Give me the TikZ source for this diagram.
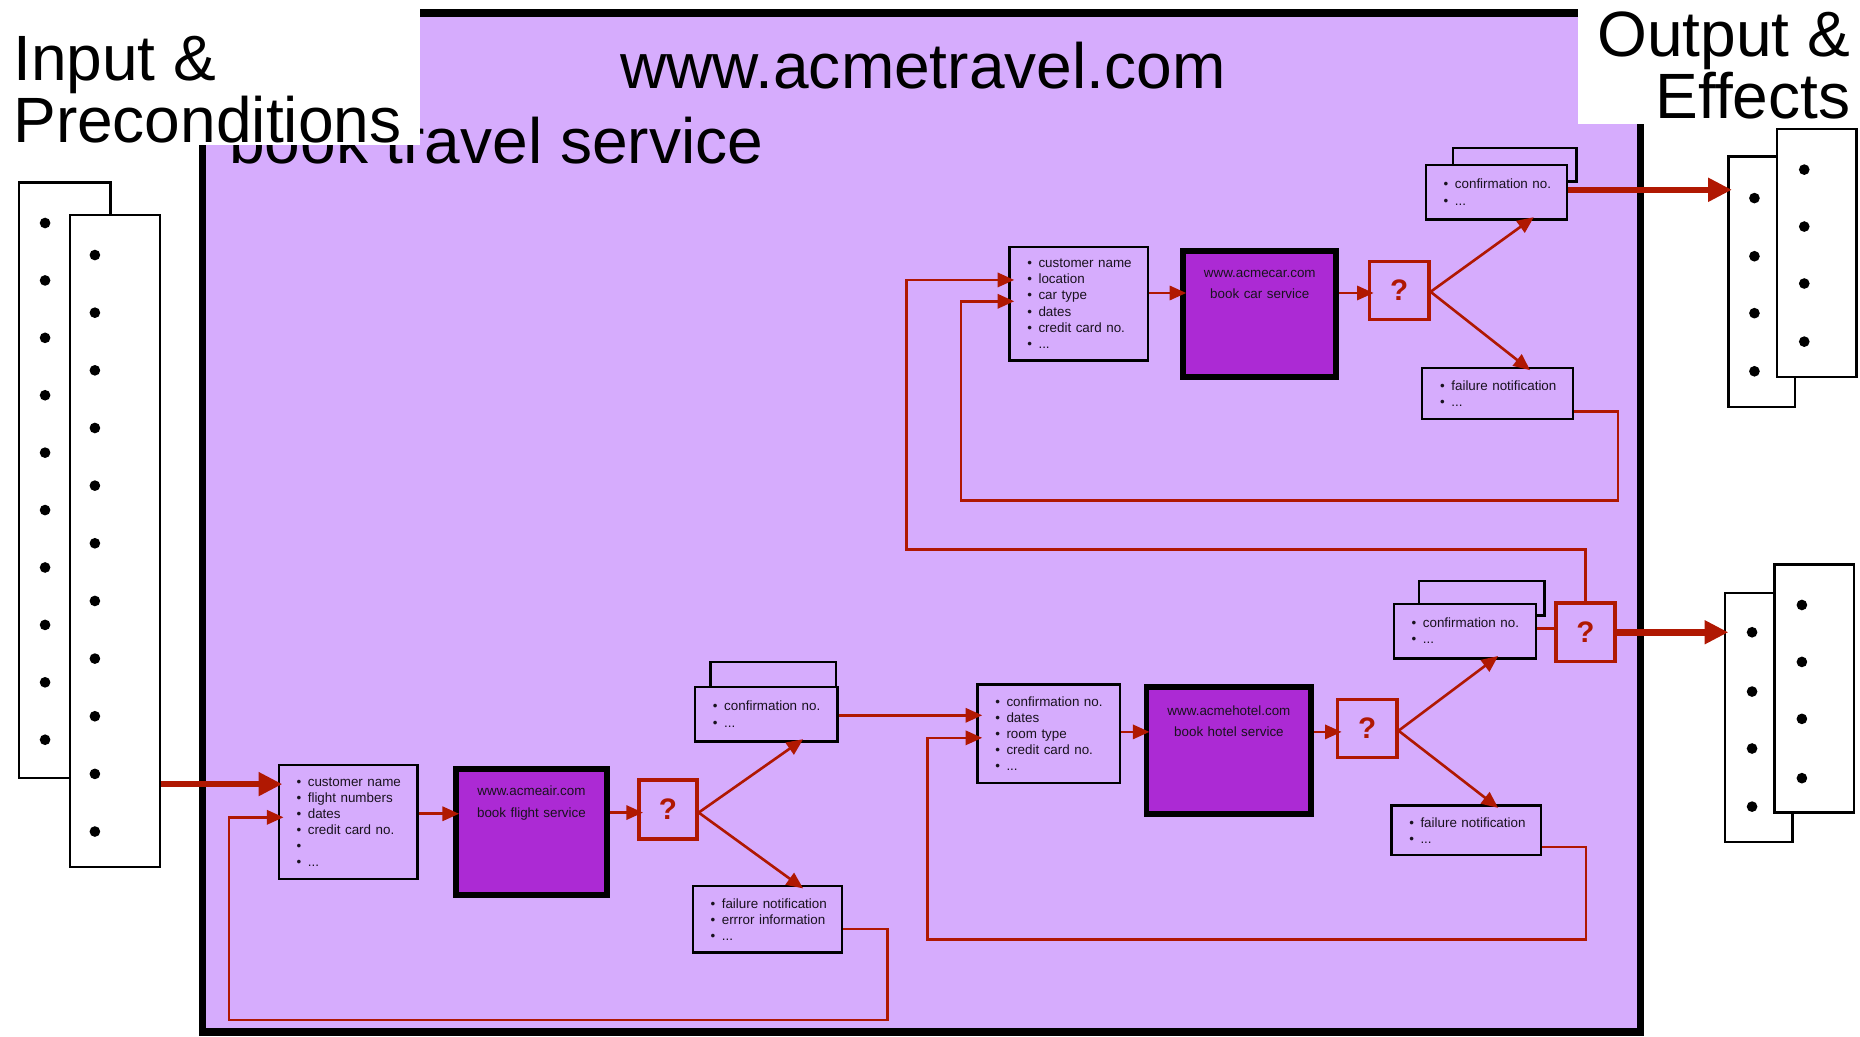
\documentclass[tikz,border=0pt]{standalone}
\usepackage{fontspec}
\setmainfont{Liberation Sans}
\usetikzlibrary{arrows.meta}
\definecolor{framefill}{RGB}{214,172,253}
\definecolor{svcfill}{RGB}{172,42,212}
\definecolor{flowred}{RGB}{176,24,2}
\definecolor{ink}{RGB}{25,18,30}
% one bulleted line of a data list
\newcommand\itm[1]{\mbox{\makebox[9.5pt][l]{\textbullet}#1}}
\begin{document}
\begin{tikzpicture}[x=1pt,y=-1pt,
  frame/.style={draw=black,line width=6pt,fill=framefill,inner sep=0pt},
  blank/.style={fill=white,inner sep=0pt,anchor=north west},
  bigtext/.style={inner sep=0pt,text=black,font=\fontsize{54}{54}\selectfont},
  doc/.style={draw=black,line width=2pt,fill=white,inner sep=0pt},
  listbox/.style={draw=black,line width=2pt,fill=framefill,inner xsep=15pt,inner ysep=0pt,
    align=left,text=ink,font=\fontsize{11.3}{13.6}\selectfont},
  backbox/.style={draw=black,line width=2pt,fill=framefill,inner sep=0pt},
  svcbox/.style={draw=black,line width=5pt,fill=svcfill,inner sep=0pt},
  svctext/.style={anchor=base,inner sep=0pt,text width=130pt,align=center,text=ink,
    font=\fontsize{11.3}{18}\selectfont,yshift=-25pt},
  qbox/.style={draw=flowred,line width=3pt,inner sep=0pt,text=flowred,
    font=\fontsize{25}{25}\selectfont\bfseries},
  wire/.style={draw=flowred,line width=2.2pt},
  flow/.style={wire,-{Triangle[length=14pt,width=12pt]},shorten >=-5pt},
  bigflow/.style={draw=flowred,line width=5.5pt,-{Triangle[length=20pt,width=19pt]},shorten >=-4pt},
]
\useasboundingbox (0,0) rectangle (1568,874);

% ---- composite service frame and its titles
\node[frame,minimum width=1212pt,minimum height=859pt] (travel) at (777,440.5) {};
\node[bigtext,anchor=base] (site) at (778,75) {www.acmetravel.com};
\node[bigtext,anchor=base west] (svcname) at (193,138) {book travel service};

% ---- side captions on white panels
\node[blank,minimum width=354pt,minimum height=122pt] (inpanel) at (0,0) {};
\node[blank,minimum width=238pt,minimum height=104pt] (outpanel) at (1330,0) {};
\node[bigtext,anchor=base west] (incap1) at (11,68) {Input \&};
\node[bigtext,anchor=base west] (incap2) at (11,120) {Preconditions};
\node[bigtext,anchor=base east] (outcap1) at (1560,48) {Output \&};
\node[bigtext,anchor=base east] (outcap2) at (1560,100) {Effects};

% ---- input documents
\node[doc,minimum width=77pt,minimum height=502pt] (inback) at (54.5,405) {};
\node[doc,minimum width=76pt,minimum height=550pt] (infront) at (97,456) {};
\foreach \k in {0,...,9} \fill (38,{188+48.4*\k}) circle[radius=4.5pt];
\foreach \k in {0,...,10} \fill (80,{215+48.6*\k}) circle[radius=4.5pt];

% ---- output documents
\node[doc,minimum width=56pt,minimum height=211pt] (outback1) at (1485,237.5) {};
\node[doc,minimum width=67pt,minimum height=209pt] (outfront1) at (1531.5,213.5) {};
\foreach \yy in {167,216,264,313} \fill (1479,\yy) circle[radius=4.5pt];
\foreach \yy in {143,191,239,288} \fill (1521,\yy) circle[radius=4.5pt];
\node[doc,minimum width=57pt,minimum height=210pt] (outback2) at (1482.5,605) {};
\node[doc,minimum width=67pt,minimum height=209pt] (outfront2) at (1529.5,580.5) {};
\foreach \yy in {533,583,631,680} \fill (1477,\yy) circle[radius=4.5pt];
\foreach \yy in {510,558,606,656} \fill (1519,\yy) circle[radius=4.5pt];

% ---- flight booking
\node[listbox,text width=87pt,minimum height=96pt] (airlist) at (293.5,693)
  {\itm{customer name}\\\itm{flight numbers}\\\itm{dates}\\\itm{credit card no.}\\\itm{}\\\itm{...}};
\node[svcbox,minimum width=127pt,minimum height=106pt] (airsvc) at (448,701.5) {};
\node[svctext] (airsvctxt) at (airsvc.north) {www.acmeair.com\\book flight service};
\node[qbox,minimum width=49pt,minimum height=50pt] (airq) at (563,682.5) {?};
\node[backbox,minimum width=106pt,minimum height=31pt] (airconfback) at (652,573.5) {};
\node[listbox,text width=90pt,minimum height=46pt] (airconf) at (646,602)
  {\itm{confirmation no.}\\\itm{...}};
\node[listbox,text width=96pt,minimum height=56pt] (airfail) at (647,775)
  {\itm{failure notification}\\\itm{errror information}\\\itm{...}};

% ---- hotel booking
\node[listbox,text width=90pt,minimum height=83pt] (hotellist) at (884,618.5)
  {\itm{confirmation no.}\\\itm{dates}\\\itm{room type}\\\itm{credit card no.}\\\itm{...}};
\node[svcbox,minimum width=139pt,minimum height=107pt] (hotelsvc) at (1036,633) {};
\node[svctext,yshift=-1pt] (hotelsvctxt) at (hotelsvc.north) {www.acmehotel.com\\book hotel service};
\node[qbox,minimum width=50pt,minimum height=49pt] (hotelq) at (1152.5,614) {?};
\node[backbox,minimum width=106pt,minimum height=29pt] (hotelconfback) at (1249,504.5) {};
\node[listbox,text width=90pt,minimum height=46pt] (hotelconf) at (1235,532)
  {\itm{confirmation no.}\\\itm{...}};
\node[listbox,text width=96pt,minimum height=42pt] (hotelfail) at (1236,700)
  {\itm{failure notification}\\\itm{...}};
\node[qbox,minimum width=50pt,minimum height=49pt] (finalq) at (1336.5,533) {?};

% ---- car booking
\node[listbox,text width=87pt,minimum height=96pt] (carlist) at (909.5,256)
  {\itm{customer name}\\\itm{location}\\\itm{car type}\\\itm{dates}\\\itm{credit card no.}\\\itm{...}};
\node[svcbox,minimum width=129pt,minimum height=106pt] (carsvc) at (1062,264.5) {};
\node[svctext] (carsvctxt) at (carsvc.north) {www.acmecar.com\\book car service};
\node[qbox,minimum width=50pt,minimum height=49pt] (carq) at (1179.5,245) {?};
\node[backbox,minimum width=104pt,minimum height=28pt] (carconfback) at (1277,139) {};
\node[listbox,text width=89pt,minimum height=46pt] (carconf) at (1261.5,162)
  {\itm{confirmation no.}\\\itm{...}};
\node[listbox,text width=97pt,minimum height=43pt] (carfail) at (1262.5,331.5)
  {\itm{failure notification}\\\itm{...}};

% ---- flight flow
\draw[bigflow] (infront.east |- 0,661) -- (airlist.west |- 0,661);
\draw[flow] (airlist.east |- 0,686) -- (airsvc.west |- 0,686);
\draw[flow] (airsvc.east |- 0,685) -- (airq.west |- 0,685);
\draw[flow] (airq.east |- 0,685) -- (airconf.south -| 673,0);
\draw[flow] (airq.east |- 0,685) -- (airfail.north -| 673,0);
\draw[flow] (airfail.east |- 0,783) -| (748,860) -| (193,689) -- (airlist.west |- 0,689);
\draw[flow] (airconf.east |- 0,603) -- (hotellist.west |- 0,603);

% ---- hotel flow
\draw[flow] (hotellist.east |- 0,617) -- (hotelsvc.west |- 0,617);
\draw[flow] (hotelsvc.east |- 0,617) -- (hotelq.west |- 0,617);
\draw[flow] (hotelq.east |- 0,616) -- (hotelconf.south -| 1259,0);
\draw[flow] (hotelq.east |- 0,616) -- (hotelfail.north -| 1259,0);
\draw[flow] (hotelfail.east |- 0,714) -| (1337,792) -| (782,622) -- (hotellist.west |- 0,622);
\draw[wire] (hotelconf.east |- 0,530) -- (finalq.west |- 0,530);
\draw[bigflow] (finalq.east |- 0,533) -- (outback2.west |- 0,533);
\draw[flow] (finalq.north) |- (764,463) |- (carlist.west |- 0,236);

% ---- car flow
\draw[flow] (carlist.east |- 0,247) -- (carsvc.west |- 0,247);
\draw[flow] (carsvc.east |- 0,247) -- (carq.west |- 0,247);
\draw[flow] (carq.east |- 0,246) -- (carconf.south -| 1289,0);
\draw[flow] (carq.east |- 0,246) -- (carfail.north -| 1286,0);
\draw[flow] (carfail.east |- 0,347) -| (1364,422) -| (810,254) -- (carlist.west |- 0,254);
\draw[bigflow] (carconf.east |- 0,160) -- (outback1.west |- 0,160);
\end{tikzpicture}
\end{document}
